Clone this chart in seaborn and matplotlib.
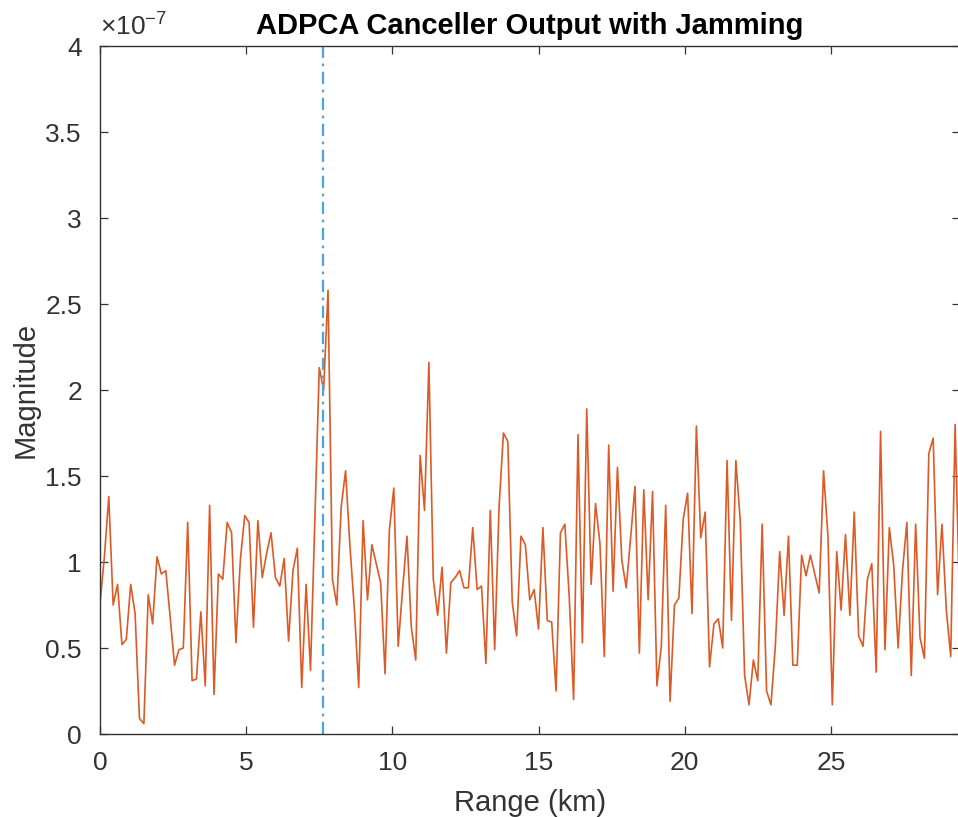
import numpy as np
import matplotlib
matplotlib.use('Agg')
import matplotlib.pyplot as plt
import seaborn as sns
from matplotlib.ticker import FuncFormatter

# canceller output magnitude per range gate (units of 1e-7)
magnitude = [
    0.76, 1.03, 1.38, 0.75, 0.87, 0.52, 0.55, 0.87, 0.70, 0.09,
    0.06, 0.81, 0.64, 1.03, 0.93, 0.95, 0.68, 0.40, 0.49, 0.50,
    1.23, 0.31, 0.32, 0.71, 0.28, 1.33, 0.23, 0.93, 0.90, 1.23,
    1.17, 0.53, 1.01, 1.27, 1.23, 0.62, 1.24, 0.91, 1.05, 1.17,
    0.91, 0.86, 1.02, 0.54, 0.95, 1.08, 0.27, 0.87, 0.37, 1.25,
    2.13, 2.00, 2.58, 0.90, 0.75, 1.32, 1.53, 1.09, 0.73, 0.27,
    1.24, 0.78, 1.10, 0.99, 0.88, 0.35, 1.19, 1.43, 0.51, 0.84,
    1.15, 0.62, 0.43, 1.62, 1.30, 2.16, 0.90, 0.69, 0.97, 0.47,
    0.88, 0.91, 0.95, 0.85, 0.85, 1.20, 0.84, 0.86, 0.41, 1.30,
    0.49, 1.32, 1.75, 1.70, 0.77, 0.57, 1.15, 1.10, 0.78, 0.84,
    0.61, 1.20, 0.66, 0.65, 0.25, 1.17, 1.22, 0.80, 0.20, 1.74,
    0.53, 1.89, 0.87, 1.34, 1.11, 0.45, 1.68, 0.83, 1.55, 1.01,
    0.85, 1.14, 1.44, 0.47, 1.42, 0.78, 1.41, 0.28, 0.51, 1.33,
    0.19, 0.75, 0.79, 1.25, 1.40, 0.70, 1.79, 1.14, 1.29, 0.39,
    0.64, 0.67, 0.50, 1.59, 0.66, 1.59, 1.24, 0.34, 0.17, 0.43,
    0.31, 1.22, 0.25, 0.17, 0.51, 1.06, 0.69, 1.15, 0.40, 0.40,
    1.04, 0.92, 1.04, 0.93, 0.82, 1.53, 1.15, 0.17, 1.06, 0.72,
    1.16, 0.69, 1.29, 0.57, 0.51, 0.90, 0.99, 0.36, 1.76, 0.49,
    1.20, 0.98, 0.50, 0.95, 1.23, 0.34, 1.22, 0.56, 0.44, 1.63,
    1.72, 0.81, 1.22, 0.72, 0.45, 1.80, 0.78, 1.30,
]
gate_spacing_km = 0.15
range_km = np.arange(len(magnitude)) * gate_spacing_km
target_range_km = 7.64

x_ticks = [0, 5, 10, 15, 20, 25]
y_ticks = [0, 0.5, 1, 1.5, 2, 2.5, 3, 3.5, 4]

sns.set_style('ticks')
plt.rcParams['font.family'] = ['Liberation Sans', 'DejaVu Sans']
plt.rcParams['mathtext.fontset'] = 'custom'
plt.rcParams['mathtext.rm'] = 'Liberation Sans'
plt.rcParams['mathtext.it'] = 'Liberation Sans'

axis_gray = '#333333'

fig = plt.figure(figsize=(9.58, 8.17), dpi=100)
# right spine sits just past the image edge, as in the reference crop
ax = fig.add_axes([100 / 958, 83 / 817, 859.5 / 958, 688 / 817])

sns.lineplot(x=range_km, y=magnitude, ax=ax, color='#DC5A25', lw=1.2)
ax.axvline(target_range_km, color='#4DA3DE', lw=1.6,
           linestyle=(0, (5.5, 2.5, 1.2, 2.5)))

ax.set_xlim(0, 29.4)
ax.set_ylim(0, 4)
ax.set_xticks(x_ticks)
ax.set_yticks(y_ticks)
ax.yaxis.set_major_formatter(FuncFormatter(lambda v, p: f'{v:g}'))

for s in ax.spines.values():
    s.set_color(axis_gray)
    s.set_linewidth(1.0)
ax.tick_params(direction='in', length=6, width=0.9, colors=axis_gray,
               labelsize=19, top=True, right=True)
ax.tick_params(axis='x', pad=12)
ax.tick_params(axis='y', pad=13)

ax.set_xlabel('Range (km)', fontsize=21, color=axis_gray, labelpad=10)
ax.set_ylabel('Magnitude', fontsize=21, color=axis_gray, labelpad=4)
ax.set_title('ADPCA Canceller Output with Jamming', fontsize=21,
             fontweight='bold', color='black', pad=9)
ax.text(0, 1.008, r'$\times10^{-7}$', transform=ax.transAxes,
        fontsize=19, color=axis_gray, ha='left', va='bottom')

fig.savefig('out.png', dpi=100)
